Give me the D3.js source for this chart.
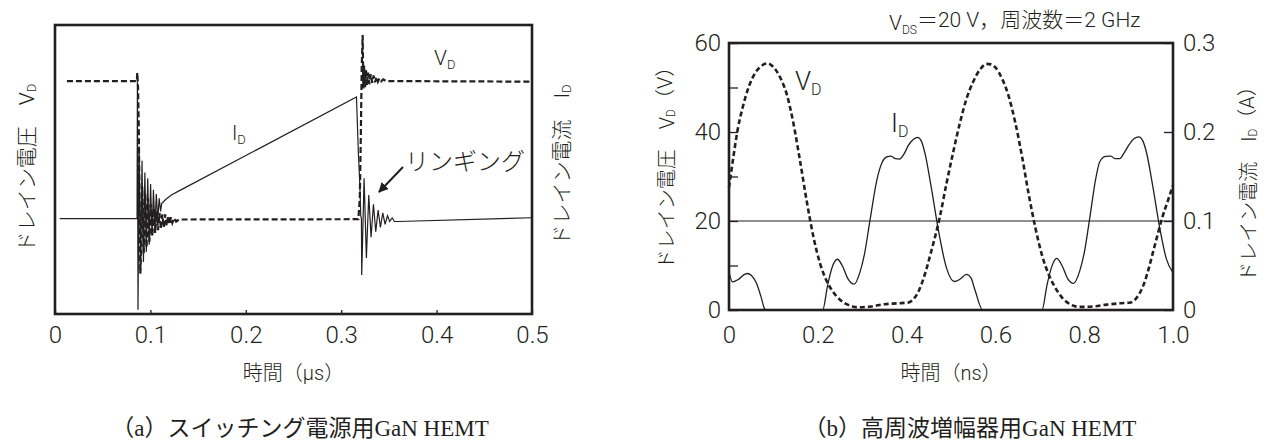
<!DOCTYPE html>
<html><head><meta charset="utf-8">
<script src="https://cdn.jsdelivr.net/npm/d3@7"></script>
<style>body{margin:0;background:#fff}</style>
</head><body>
<svg id="c" width="1266" height="443"></svg>
<script>
// ---------- (a) switching power supply GaN HEMT (time in µs, arbitrary units 0-100) ----------
const swVdTime = [0.0125,0.0858,0.0862,0.0870,0.0878,0.0886,0.0894,0.0902,0.0915,0.0930,0.0945,0.0960,0.0975,0.0990,0.1005,0.1020,0.1035,0.1050,0.1065,0.1080,0.1095,0.1110,0.1125,0.1140,0.1155,0.1170,0.1185,0.1200,0.1215,0.1230,0.1250,0.1270,0.1300,0.3180,0.3195,0.3205,0.3215,0.3225,0.3232,0.3240,0.3250,0.3260,0.3270,0.3282,0.3295,0.3310,0.3325,0.3340,0.3355,0.3370,0.3385,0.3400,0.3420,0.3440,0.3470,0.4980];
const swVdValue = [80.6,80.6,83.5,79,65,40,14,22,44,21,42,23,40,25,38,27,36.5,28,35.5,29,35,29.5,34.5,30,34.5,30.5,34,31,33.5,31.5,33.2,32,32.7,32.8,40,60,85,96.5,78,86,78.5,84.5,79,83.5,79.5,83,80,82.5,80.2,82,80.4,81.5,80.5,81.2,80.6,80.4];
const swIdTime = [0.005,0.0860,0.0864,0.0870,0.0882,0.0897,0.0912,0.0927,0.0942,0.0957,0.0972,0.0987,0.1002,0.1017,0.1032,0.1047,0.1062,0.1077,0.1092,0.1107,0.1118,0.1160,0.1220,0.1300,0.3160,0.3180,0.3195,0.3205,0.3212,0.3215,0.3240,0.3264,0.3289,0.3313,0.3338,0.3362,0.3387,0.3411,0.3436,0.3460,0.3485,0.3509,0.3534,0.3558,0.3600,0.5000];
const swIdValue = [33,33,83,1.5,58,14,53,18,49,21.5,47,24,45,27,43,29.5,41.5,32.5,40,35.5,38.2,39.6,41.2,42.6,75.1,55.7,45,34,33,13.5,47,19.4,41.2,26.6,38,28.5,36,30,35,31,34,32,33.3,32,32,33.3];
const swTicks = [0,0.1,0.2,0.3,0.4,0.5];
const swTickLabels = ["0","0.1","0.2","0.3","0.4","0.5"];

// ---------- (b) RF amplifier GaN HEMT (time in ns, VD in V, ID in A) ----------
const rfVdTime = [0,0.01,0.02,0.03,0.045,0.06,0.075,0.087,0.1,0.115,0.13,0.145,0.16,0.175,0.19,0.205,0.22,0.235,0.25,0.27,0.29,0.32,0.35,0.38,0.405,0.415,0.425,0.435,0.445,0.455,0.465,0.475,0.49,0.505,0.52,0.535,0.55,0.565,0.58,0.59,0.6,0.615,0.63,0.645,0.66,0.675,0.69,0.705,0.72,0.735,0.75,0.77,0.79,0.82,0.85,0.88,0.905,0.915,0.925,0.935,0.945,0.955,0.965,0.975,0.99,1.0];
const rfVdValue = [27.5,34.5,40.8,45.2,50.3,53.4,55,55.4,54.6,52.3,48.5,42,33.5,24.5,16.5,10.5,6.5,4,2.3,1.1,0.6,0.8,1.3,1.5,1.7,2.4,3.8,6.2,9.3,13,16.8,21,28.5,35.5,42,47.5,51.3,54,55.3,55.2,54.5,52,48,42,34.5,26,18.5,12.3,8,5,2.8,1.2,0.7,0.8,1.2,1.5,1.7,2.4,3.8,6,9.2,13,16.8,20.5,25,28];
const rfIdTime = [0,0.008,0.02,0.035,0.042,0.05,0.062,0.072,0.08,0.083,0.211,0.222,0.232,0.244,0.255,0.268,0.282,0.295,0.305,0.3176,0.333,0.345,0.355,0.365,0.375,0.384,0.395,0.404,0.415,0.425,0.433,0.4414,0.4565,0.4715,0.49,0.5075,0.52,0.535,0.545,0.554,0.5714,0.705,0.716,0.727,0.738,0.75,0.763,0.776,0.79,0.8,0.813,0.826,0.835,0.848,0.86,0.87,0.88,0.89,0.9,0.912,0.923,0.932,0.94,0.955,0.97,0.985,1.0];
const rfIdValue = [0.0425,0.0315,0.034,0.04,0.041,0.039,0.03,0.015,0.0015,0,0,0.0275,0.0475,0.057,0.05,0.035,0.029,0.0425,0.0625,0.101,0.146,0.166,0.172,0.173,0.17,0.1695,0.176,0.185,0.1915,0.194,0.19,0.176,0.135,0.09,0.047,0.032,0.0345,0.04,0.036,0.0225,0,0,0.0275,0.049,0.058,0.05,0.035,0.03,0.044,0.064,0.105,0.1475,0.1665,0.1725,0.173,0.17,0.17,0.1765,0.185,0.1925,0.1945,0.19,0.1775,0.1375,0.0925,0.0575,0.042];
const rfBiasVoltage = [20];
const rfXTicks = [0,0.2,0.4,0.6,0.8,1.0];
const rfXTickLabels = ["0","0.2","0.4","0.6","0.8","1.0"];
const rfVTicks = [0,10,20,30,40,50,60];
const rfVTickLabels = ["0","","20","","40","","60"];
const rfITicks = [0,0.1,0.2,0.3];
const rfITickLabels = ["0","0.1","0.2","0.3"];

// ---------- drawing ----------
const ink = "#231f20";
const numFont = "Roboto, 'Liberation Sans', Arial, 'Noto Sans CJK JP', sans-serif";
const jpFont = "Roboto, 'Noto Sans CJK JP', sans-serif";
const capFont = "'Liberation Serif', 'Noto Sans CJK JP', serif";
const svg = d3.select("#c");

function styleAxis(g, size) {
  g.select(".domain").remove();
  g.selectAll("line").attr("stroke", ink).attr("stroke-width", 1.3);
  g.selectAll("text").attr("fill", ink).style("font-family", numFont).style("font-weight", 300).style("font-size", size + "px");
}
function subText(sel, main, sub, tail, subSize) {
  sel.style("font-weight", 300);
  sel.append("tspan").text(main);
  sel.append("tspan").attr("font-size", subSize).attr("dy", "0.3em").text(sub);
  if (tail) sel.append("tspan").attr("dy", "-0.3em").text(tail);
}

// Panel (a)
const xL = d3.scaleLinear().domain([0, 0.5]).range([55, 532]);
const yL = d3.scaleLinear().domain([0, 100]).range([314, 25]);
const lineL = d3.line().x(d => xL(d[0])).y(d => yL(d[1]));

svg.append("g").attr("transform", `translate(0,${yL(0)})`)
  .call(d3.axisBottom(xL).tickValues(swTicks).tickFormat((d, i) => swTickLabels[i]).tickSizeInner(-4).tickSizeOuter(0).tickPadding(12))
  .call(g => styleAxis(g, 24));

svg.append("path").datum(d3.zip(swIdTime, swIdValue)).attr("d", lineL)
  .attr("fill", "none").attr("stroke", ink).attr("stroke-width", 1.2);
svg.append("path").datum(d3.zip(swVdTime, swVdValue)).attr("d", lineL)
  .attr("fill", "none").attr("stroke", ink).attr("stroke-width", 2.2).attr("stroke-dasharray", "6,3");

svg.append("rect").attr("x", xL(0)).attr("y", yL(100)).attr("width", xL(0.5) - xL(0)).attr("height", yL(0) - yL(100))
  .attr("fill", "none").attr("stroke", ink).attr("stroke-width", 2.6);

subText(svg.append("text").attr("x", 434).attr("y", 65).attr("fill", ink).style("font-family", numFont).style("font-size", "21px"), "V", "D", null, "13px");
subText(svg.append("text").attr("x", 232).attr("y", 140).attr("fill", ink).style("font-family", numFont).style("font-size", "20px"), "I", "D", null, "13px");
svg.append("text").attr("x", 405).attr("y", 170).attr("fill", ink).style("font-family", jpFont).style("font-weight", 300).style("font-size", "24px").text("リンギング");

svg.append("defs").append("marker").attr("id", "ah").attr("viewBox", "0 0 10 10").attr("refX", 9).attr("refY", 5)
  .attr("markerWidth", 10).attr("markerHeight", 10).attr("markerUnits", "userSpaceOnUse").attr("orient", "auto")
  .append("path").attr("d", "M0,0L10,5L0,10z").attr("fill", ink);
svg.append("line").attr("x1", 403).attr("y1", 167).attr("x2", 379).attr("y2", 192)
  .attr("stroke", ink).attr("stroke-width", 2).attr("marker-end", "url(#ah)");

subText(svg.append("text").attr("transform", "translate(27,168) rotate(-90)").attr("text-anchor", "middle").attr("dominant-baseline", "central")
  .attr("fill", ink).style("font-family", jpFont).style("font-size", "21px"), "ドレイン電圧　V", "D", null, "13px");
subText(svg.append("text").attr("transform", "translate(562,165) rotate(-90)").attr("text-anchor", "middle").attr("dominant-baseline", "central")
  .attr("fill", ink).style("font-family", jpFont).style("font-size", "21px"), "ドレイン電流　I", "D", null, "13px");
svg.append("text").attr("x", (xL(0) + xL(0.5)) / 2).attr("y", 380).attr("text-anchor", "middle").attr("fill", ink)
  .style("font-family", jpFont).style("font-weight", 300).style("font-size", "20px").text("時間（μs）");

// Panel (b)
const xR = d3.scaleLinear().domain([0, 1]).range([729, 1173]);
const yV = d3.scaleLinear().domain([0, 60]).range([310, 43]);
const yI = d3.scaleLinear().domain([0, 0.3]).range([310, 43]);

svg.append("g").attr("transform", `translate(0,${yV(0)})`)
  .call(d3.axisBottom(xR).tickValues(rfXTicks).tickFormat((d, i) => rfXTickLabels[i]).tickSize(0).tickPadding(16))
  .call(g => styleAxis(g, 24));
svg.append("g").attr("transform", `translate(${xR(0)},0)`)
  .call(d3.axisLeft(yV).tickValues(rfVTicks).tickFormat((d, i) => rfVTickLabels[i]).tickSizeInner(-9).tickSizeOuter(0).tickPadding(8))
  .call(g => styleAxis(g, 24));
svg.append("g").attr("transform", `translate(${xR(1)},0)`)
  .call(d3.axisRight(yI).tickValues(rfITicks).tickFormat((d, i) => rfITickLabels[i]).tickSizeInner(-9).tickSizeOuter(0).tickPadding(10))
  .call(g => styleAxis(g, 24));

svg.selectAll(null).data(rfBiasVoltage).enter().append("line")
  .attr("x1", xR(0)).attr("x2", xR(1)).attr("y1", d => yV(d)).attr("y2", d => yV(d))
  .attr("stroke", ink).attr("stroke-width", 1.2);

const lineV = d3.line().x(d => xR(d[0])).y(d => yV(d[1])).curve(d3.curveMonotoneX);
const lineI = d3.line().x(d => xR(d[0])).y(d => yI(d[1])).curve(d3.curveMonotoneX);
svg.append("path").datum(d3.zip(rfIdTime, rfIdValue)).attr("d", lineI)
  .attr("fill", "none").attr("stroke", ink).attr("stroke-width", 1.3);
svg.append("path").datum(d3.zip(rfVdTime, rfVdValue)).attr("d", lineV)
  .attr("fill", "none").attr("stroke", ink).attr("stroke-width", 2.6).attr("stroke-dasharray", "5,3");

svg.append("rect").attr("x", xR(0)).attr("y", yV(60)).attr("width", xR(1) - xR(0)).attr("height", yV(0) - yV(60))
  .attr("fill", "none").attr("stroke", ink).attr("stroke-width", 2.6);

subText(svg.append("text").attr("x", 795).attr("y", 90).attr("fill", ink).style("font-family", numFont).style("font-size", "26px"), "V", "D", null, "16px");
subText(svg.append("text").attr("x", 891).attr("y", 132).attr("fill", ink).style("font-family", numFont).style("font-size", "26px"), "I", "D", null, "16px");

subText(svg.append("text").attr("x", 889).attr("y", 30).attr("fill", ink).style("font-family", jpFont).style("font-size", "21px"), "V", "DS", "＝20 V，周波数＝2 GHz", "12px");

subText(svg.append("text").attr("transform", "translate(667,163) rotate(-90)").attr("text-anchor", "middle").attr("dominant-baseline", "central")
  .attr("fill", ink).style("font-family", jpFont).style("font-size", "20px"), "ドレイン電圧　V", "D", "（V）", "12px");
subText(svg.append("text").attr("transform", "translate(1249,179) rotate(-90)").attr("text-anchor", "middle").attr("dominant-baseline", "central")
  .attr("fill", ink).style("font-family", jpFont).style("font-size", "20px"), "ドレイン電流　I", "D", "（A）", "12px");
svg.append("text").attr("x", (xR(0) + xR(1)) / 2).attr("y", 380).attr("text-anchor", "middle").attr("fill", ink)
  .style("font-family", jpFont).style("font-weight", 300).style("font-size", "20px").text("時間（ns）");

// Captions
svg.append("text").attr("x", 300).attr("y", 436).attr("text-anchor", "middle").attr("fill", ink)
  .style("font-family", capFont).style("font-size", "23px").text("（a）スイッチング電源用GaN HEMT");
svg.append("text").attr("x", 970).attr("y", 436).attr("text-anchor", "middle").attr("fill", ink)
  .style("font-family", capFont).style("font-size", "23px").text("（b）高周波増幅器用GaN HEMT");
</script>
</body></html>
